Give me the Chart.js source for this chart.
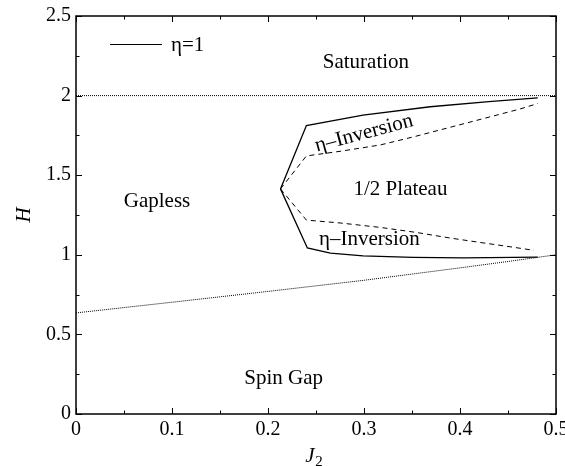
<!DOCTYPE html>
<html>
<head>
<meta charset="utf-8">
<script src="https://cdn.jsdelivr.net/npm/chart.js@4.4.0/dist/chart.umd.min.js"></script>
<style>
  html, body { margin: 0; padding: 0; background: #fff; }
  #wrap { width: 565px; height: 466px; }
</style>
</head>
<body>
<div id="wrap"><canvas id="c" width="565" height="466"></canvas></div>
<script>
// ---- data ----
const xTicks = [0, 0.1, 0.2, 0.3, 0.4, 0.5];
const yTicks = [0, 0.5, 1, 1.5, 2, 2.5];

// solid (eta = 1) boundary, upper branch
const solidUpperJ = [0.213, 0.240, 0.299, 0.369, 0.430, 0.481];
const solidUpperH = [1.414, 1.812, 1.878, 1.930, 1.962, 1.986];
// solid boundary, lower branch
const solidLowerJ = [0.213, 0.241, 0.265, 0.299, 0.351, 0.404, 0.481];
const solidLowerH = [1.414, 1.043, 1.010, 0.993, 0.984, 0.981, 0.986];
// dashed boundary, upper branch
const dashUpperJ = [0.213, 0.240, 0.275, 0.317, 0.351, 0.386, 0.424, 0.462, 0.481];
const dashUpperH = [1.414, 1.621, 1.650, 1.690, 1.740, 1.795, 1.855, 1.915, 1.950];
// dashed boundary, lower branch
const dashLowerJ = [0.213, 0.240, 0.275, 0.317, 0.355, 0.390, 0.424, 0.455, 0.477];
const dashLowerH = [1.414, 1.218, 1.200, 1.172, 1.140, 1.105, 1.075, 1.048, 1.028];
// dotted saturation line
const satJ = [0, 0.5];
const satH = [2, 2];
// dotted spin-gap line
const gapJ = [0, 0.1, 0.2, 0.3, 0.4, 0.45, 0.5];
const gapH = [0.635, 0.702, 0.770, 0.840, 0.918, 0.958, 1.0];

// region labels: text, J2, H
const regionText = ['Saturation', 'Gapless', '1/2 Plateau', 'η–Inversion', 'η–Inversion', 'Spin Gap'];
const regionJ = [0.302, 0.0844, 0.338, 0.300, 0.3056, 0.2163];
const regionH = [2.206, 1.336, 1.411, 1.762, 1.095, 0.2244];
const regionRot = [0, 0, 0, -15, 0, 0];

const legendLabel = 'η=1';

function pts(xs, ys) { return xs.map((x, i) => ({ x: x, y: ys[i] })); }

const SERIF = '"Liberation Serif", "DejaVu Serif", serif';

const overlay = {
  id: 'overlay',
  afterDraw(chart) {
    const ctx = chart.ctx;
    const a = chart.chartArea;
    const xs = chart.scales.x, ys = chart.scales.y;
    ctx.save();
    // frame
    ctx.strokeStyle = '#000';
    ctx.lineWidth = 1.5;
    ctx.strokeRect(a.left, a.top, a.right - a.left, a.bottom - a.top);
    // inward ticks
    ctx.lineWidth = 1;
    const maj = 6, min = 3.5;
    ctx.beginPath();
    for (let i = 0; i < xTicks.length; i++) {
      const px = Math.round(xs.getPixelForValue(xTicks[i])) + 0.5;
      ctx.moveTo(px, a.bottom); ctx.lineTo(px, a.bottom - maj);
      ctx.moveTo(px, a.top); ctx.lineTo(px, a.top + maj);
      if (i < xTicks.length - 1) {
        const pm = Math.round(xs.getPixelForValue((xTicks[i] + xTicks[i + 1]) / 2)) + 0.5;
        ctx.moveTo(pm, a.bottom); ctx.lineTo(pm, a.bottom - min);
        ctx.moveTo(pm, a.top); ctx.lineTo(pm, a.top + min);
      }
    }
    for (let i = 0; i < yTicks.length; i++) {
      const py = Math.round(ys.getPixelForValue(yTicks[i])) + 0.5;
      ctx.moveTo(a.left, py); ctx.lineTo(a.left + maj, py);
      ctx.moveTo(a.right, py); ctx.lineTo(a.right - maj, py);
      if (i < yTicks.length - 1) {
        const pm = Math.round(ys.getPixelForValue((yTicks[i] + yTicks[i + 1]) / 2)) + 0.5;
        ctx.moveTo(a.left, pm); ctx.lineTo(a.left + min, pm);
        ctx.moveTo(a.right, pm); ctx.lineTo(a.right - min, pm);
      }
    }
    ctx.stroke();

    // region labels
    ctx.fillStyle = '#000';
    ctx.font = '21px ' + SERIF;
    ctx.textAlign = 'center';
    ctx.textBaseline = 'middle';
    for (let i = 0; i < regionText.length; i++) {
      const px = xs.getPixelForValue(regionJ[i]);
      const py = ys.getPixelForValue(regionH[i]);
      ctx.save();
      ctx.translate(px, py);
      ctx.rotate(regionRot[i] * Math.PI / 180);
      ctx.fillText(regionText[i], 0, 0);
      ctx.restore();
    }

    // legend
    const ds = chart.data.datasets[0];
    ctx.strokeStyle = ds.borderColor;
    ctx.lineWidth = 1.2;
    ctx.beginPath();
    ctx.moveTo(110, 44.5); ctx.lineTo(162, 44.5);
    ctx.stroke();
    ctx.textAlign = 'left';
    ctx.fillText(legendLabel, 171, 45);

    // axis titles
    ctx.font = 'italic 21px ' + SERIF;
    ctx.textAlign = 'center';
    ctx.fillText('J', 310, 456);
    ctx.font = '15px ' + SERIF;
    ctx.fillText('2', 319, 462);
    ctx.save();
    ctx.translate(24, 215);
    ctx.rotate(-Math.PI / 2);
    ctx.font = 'italic 21px ' + SERIF;
    ctx.fillText('H', 0, 0);
    ctx.restore();

    ctx.restore();
  }
};

const lineBase = { showLine: true, pointRadius: 0, borderColor: '#000', backgroundColor: '#000', fill: false, tension: 0 };

new Chart(document.getElementById('c'), {
  type: 'scatter',
  data: {
    datasets: [
      Object.assign({}, lineBase, { label: legendLabel, data: pts(solidUpperJ, solidUpperH), borderWidth: 1.3 }),
      Object.assign({}, lineBase, { label: 'solid lower', data: pts(solidLowerJ, solidLowerH), borderWidth: 1.3 }),
      Object.assign({}, lineBase, { label: 'dashed upper', data: pts(dashUpperJ, dashUpperH), borderWidth: 1, borderDash: [5, 4] }),
      Object.assign({}, lineBase, { label: 'dashed lower', data: pts(dashLowerJ, dashLowerH), borderWidth: 1, borderDash: [5, 4] }),
      Object.assign({}, lineBase, { label: 'saturation', data: pts(satJ, satH), borderWidth: 1, borderDash: [1, 1] }),
      Object.assign({}, lineBase, { label: 'spin gap', data: pts(gapJ, gapH), borderWidth: 1, borderDash: [1, 1] })
    ]
  },
  options: {
    responsive: false,
    animation: false,
    events: [],
    layout: { padding: { left: 0, right: 9, top: 16, bottom: 0 } },
    plugins: { legend: { display: false }, tooltip: { enabled: false } },
    scales: {
      x: {
        type: 'linear', min: 0, max: 0.5,
        grid: { display: false, drawTicks: false },
        border: { display: false },
        ticks: {
          stepSize: 0.1, autoSkip: false, maxRotation: 0, padding: 4,
          color: '#000', font: { family: SERIF, size: 20 },
          callback: v => (Math.abs(v) < 1e-9 ? '0' : (+v).toFixed(1))
        },
        afterFit: s => { s.height = 52; s.paddingLeft = 0; s.paddingRight = 0; }
      },
      y: {
        type: 'linear', min: 0, max: 2.5,
        grid: { display: false, drawTicks: false },
        border: { display: false },
        ticks: {
          stepSize: 0.5, autoSkip: false, padding: 5,
          color: '#000', font: { family: SERIF, size: 20 },
          callback: v => String(+(+v).toFixed(2))
        },
        afterFit: s => { s.width = 76; s.paddingTop = 0; s.paddingBottom = 0; }
      }
    }
  },
  plugins: [overlay]
});
</script>
</body>
</html>
